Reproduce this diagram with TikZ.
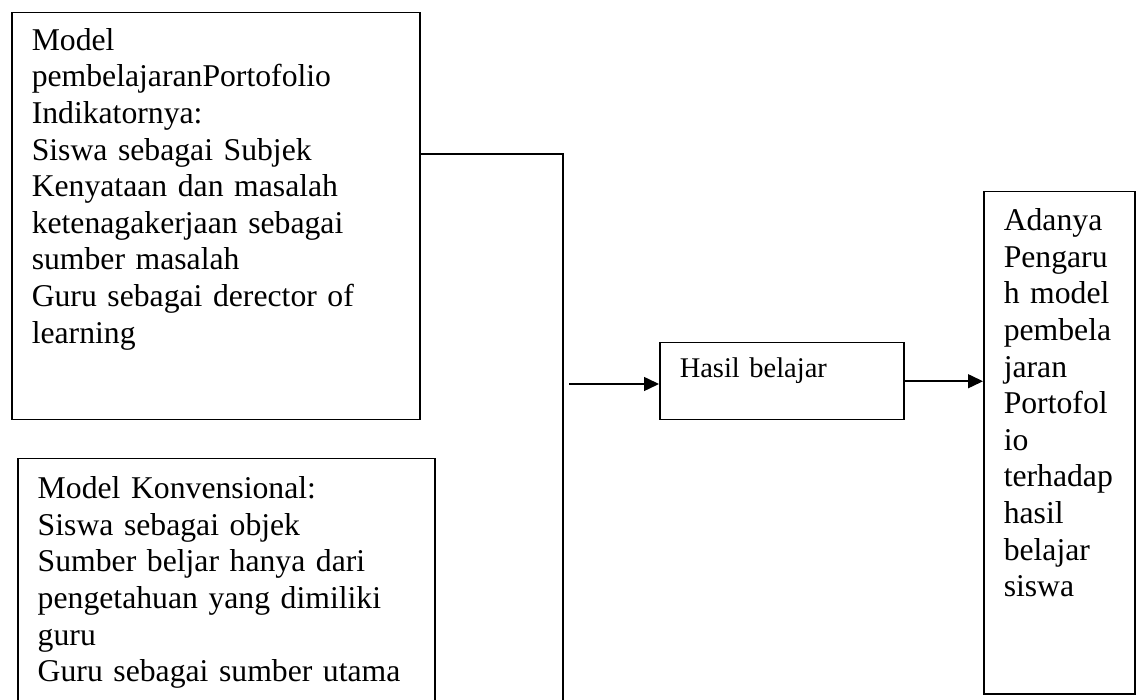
\documentclass[tikz,border=0pt]{standalone}
\usepackage{fontspec}
\setmainfont{Liberation Serif}
\usepackage{tikz}
\usetikzlibrary{calc,positioning,arrows.meta}
\tikzset{kotak/.style={draw, line width=1.5pt, anchor=north west, align=left,
  inner xsep=20pt, inner ysep=9.5pt, font=\fontsize{31.7}{36.6}\selectfont}}
\tikzset{kotakkecil/.style={kotak, font=\fontsize{28.5}{33}\selectfont}}
\tikzset{garis/.style={line width=1.5pt}}
\tikzset{panah/.style={line width=1.5pt, -{Triangle[length=15pt,width=14pt]}}}

\begin{document}
\begin{tikzpicture}[x=1pt,y=-1pt]
\useasboundingbox (0,0) rectangle (1144,700);

\node[kotak, text width=368pt, text height=28pt, text depth=360pt](porto) at (11,12)
{Model\\ pembelajaranPortofolio\\ Indikatornya:\\ Siswa sebagai Subjek\\
Kenyataan dan masalah\\ ketenagakerjaan sebagai\\ sumber masalah\\
Guru sebagai derector of\\ learning};

\node[kotak, text width=377pt, text height=30.5pt, text depth=232pt](konv) at (17,458)
{Model Konvensional:\\ Siswa sebagai objek\\ Sumber beljar hanya dari\\
pengetahuan yang dimiliki\\ guru\\ Guru sebagai sumber utama};

\node[kotakkecil, text width=204pt, text height=25.5pt, text depth=32.5pt](hasil) at (659,342)
{Hasil belajar};

\node[kotak, text width=111pt, text height=29.5pt, text depth=453.5pt](pengaruh) at (983,191)
{Adanya\\ Pengaru\\ h model\\ pembela\\ jaran\\ Portofol\\ io\\ terhadap\\ hasil\\ belajar\\ siswa};

\coordinate (sudut) at (563,154);
\coordinate (bawah) at (563,720);
\coordinate (awal) at (569,384);

\draw[garis] (porto.east |- sudut) -- (sudut) -- (bawah);

\draw[panah] (awal) -- (awal -| hasil.west);

\draw[panah] (hasil.east) -- (hasil.east -| pengaruh.west);
\end{tikzpicture}
\end{document}
